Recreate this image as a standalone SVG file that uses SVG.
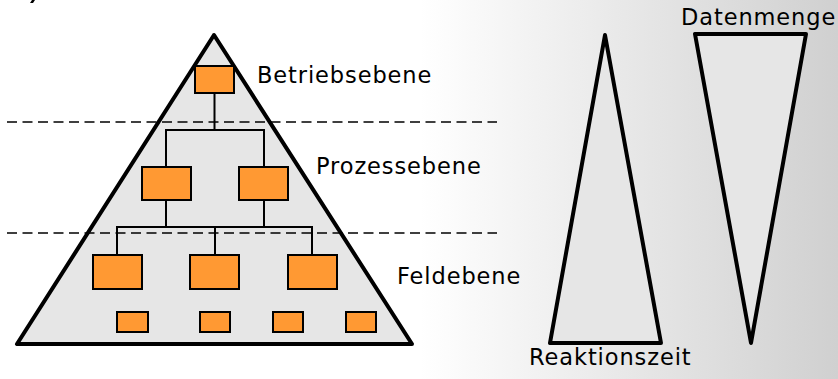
<svg xmlns="http://www.w3.org/2000/svg" width="838" height="379" viewBox="0 0 838 379">
  <defs>
    <linearGradient id="bgShade" x1="0" y1="0" x2="1" y2="0">
      <stop offset="0" stop-color="#ffffff"/>
      <stop offset="1" stop-color="#d0d0d0"/>
    </linearGradient>
    <style>
      .shape { fill: #e6e6e6; stroke: #000; stroke-width: 4; stroke-linejoin: round; }
      .box { fill: #ff9933; stroke: #000; stroke-width: 2; }
      .link { fill: none; stroke: #000; stroke-width: 2; }
      .level { fill: none; stroke: #000; stroke-width: 1.3; stroke-dasharray: 10 5.5; }
      .label { font-family: "DejaVu Sans", Verdana, sans-serif; font-size: 22.5px; letter-spacing: 0.9px; fill: #000; }
    </style>
  </defs>

  <!-- background -->
  <rect x="0" y="0" width="838" height="379" fill="#ffffff"/>
  <rect x="420" y="0" width="418" height="379" fill="url(#bgShade)"/>
  <polygon points="30,3 32,0 35,0 33,3" fill="#000"/>

  <!-- automation pyramid -->
  <g id="pyramid">
    <polygon class="shape" points="214,35 17,344 412,344"/>
  </g>

  <!-- level separators -->
  <g id="separators">
    <line class="level" x1="7" y1="122" x2="497" y2="122"/>
    <line class="level" x1="7" y1="233" x2="497" y2="233"/>
  </g>

  <!-- tree connectors -->
  <g id="connectors">
    <line class="link" x1="214.5" y1="93" x2="214.5" y2="130"/>
    <polyline class="link" points="166,167 166,130 264,130 264,167"/>
    <line class="link" x1="166" y1="200" x2="166" y2="227"/>
    <line class="link" x1="264" y1="200" x2="264" y2="227"/>
    <polyline class="link" points="117,255 117,227 312,227 312,255"/>
    <line class="link" x1="215" y1="227" x2="215" y2="255"/>
  </g>

  <!-- company level -->
  <g id="node-betrieb">
    <rect class="box" x="195" y="66" width="39" height="27"/>
  </g>

  <!-- process level -->
  <g id="node-prozess-1">
    <rect class="box" x="142" y="167" width="49" height="33"/>
  </g>
  <g id="node-prozess-2">
    <rect class="box" x="239" y="167" width="49" height="33"/>
  </g>

  <!-- field level -->
  <g id="node-feld-1">
    <rect class="box" x="93" y="255" width="49" height="34"/>
  </g>
  <g id="node-feld-2">
    <rect class="box" x="190" y="255" width="49" height="34"/>
  </g>
  <g id="node-feld-3">
    <rect class="box" x="288" y="255" width="49" height="34"/>
  </g>

  <!-- field devices -->
  <g id="node-geraet-1">
    <rect class="box" x="117" y="312" width="31" height="20"/>
  </g>
  <g id="node-geraet-2">
    <rect class="box" x="200" y="312" width="30" height="20"/>
  </g>
  <g id="node-geraet-3">
    <rect class="box" x="273" y="312" width="30" height="20"/>
  </g>
  <g id="node-geraet-4">
    <rect class="box" x="346" y="312" width="30" height="20"/>
  </g>

  <!-- level labels -->
  <g id="labels">
    <text class="label" x="257" y="83">Betriebsebene</text>
    <text class="label" x="316" y="174">Prozessebene</text>
    <text class="label" x="397" y="284">Feldebene</text>
  </g>

  <!-- reaction time wedge -->
  <g id="reaktionszeit">
    <polygon class="shape" points="605,35 550,343 661,343"/>
    <text class="label" x="529" y="365">Reaktionszeit</text>
  </g>

  <!-- data volume wedge -->
  <g id="datenmenge">
    <polygon class="shape" points="695,34 806,34 751,343"/>
    <text class="label" x="681" y="25">Datenmenge</text>
  </g>
</svg>
